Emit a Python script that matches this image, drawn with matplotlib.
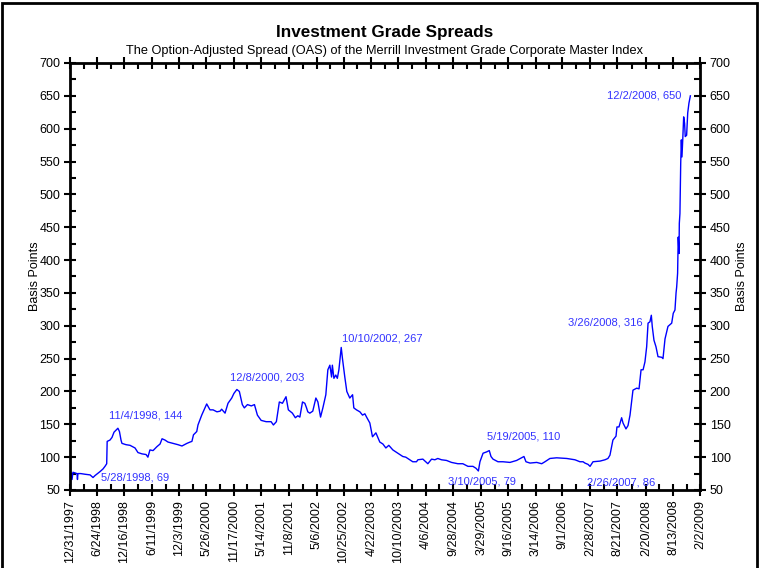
import numpy as np
import pandas as pd
import matplotlib
matplotlib.use('Agg')
import matplotlib.pyplot as plt
import matplotlib.dates as mdates
from matplotlib.patches import Rectangle

plt.rcParams['font.family'] = ['Liberation Sans', 'DejaVu Sans']

# Merrill IG master index option-adjusted spread, basis points
dates = [
    '1997-12-31', '1998-01-02', '1998-01-06', '1998-01-13', '1998-01-19', '1998-02-01',
    '1998-02-14', '1998-02-17', '1998-02-20', '1998-03-10', '1998-04-06', '1998-05-09',
    '1998-05-28', '1998-06-10', '1998-07-12', '1998-07-31', '1998-08-13', '1998-08-24',
    '1998-08-27', '1998-09-14', '1998-09-27', '1998-10-10', '1998-10-23', '1998-11-04',
    '1998-11-14', '1998-11-24', '1998-11-30', '1998-12-26', '1999-01-21', '1999-02-22',
    '1999-03-13', '1999-04-08', '1999-05-04', '1999-05-16', '1999-05-29', '1999-06-18',
    '1999-07-13', '1999-08-02', '1999-08-15', '1999-09-03', '1999-09-22', '1999-10-24',
    '1999-11-25', '1999-12-21', '2000-01-22', '2000-02-11', '2000-02-23', '2000-03-04',
    '2000-03-25', '2000-04-02', '2000-04-26', '2000-05-17', '2000-05-28', '2000-06-18',
    '2000-07-08', '2000-08-02', '2000-08-22', '2000-09-01', '2000-09-23', '2000-10-12',
    '2000-11-05', '2000-11-19', '2000-12-08', '2000-12-24', '2001-01-12', '2001-01-25',
    '2001-02-14', '2001-03-11', '2001-03-31', '2001-04-19', '2001-05-13', '2001-06-14',
    '2001-07-16', '2001-07-31', '2001-08-19', '2001-09-07', '2001-09-27', '2001-10-20',
    '2001-11-04', '2001-11-30', '2001-12-19', '2002-01-04', '2002-01-17', '2002-02-03',
    '2002-02-18', '2002-03-01', '2002-03-09', '2002-03-22', '2002-04-10', '2002-04-30',
    '2002-05-13', '2002-05-30', '2002-06-14', '2002-07-03', '2002-07-16', '2002-07-29',
    '2002-08-09', '2002-08-14', '2002-08-24', '2002-09-05', '2002-09-15', '2002-09-25',
    '2002-10-10', '2002-10-18', '2002-11-02', '2002-11-15', '2002-12-04', '2002-12-22',
    '2002-12-30', '2003-01-16', '2003-02-07', '2003-02-24', '2003-03-11', '2003-03-22',
    '2003-04-12', '2003-04-29', '2003-05-21', '2003-06-15', '2003-07-05', '2003-07-24',
    '2003-08-12', '2003-09-07', '2003-10-09', '2003-11-10', '2003-11-29', '2003-12-25',
    '2004-01-13', '2004-02-06', '2004-02-15', '2004-03-18', '2004-04-19', '2004-05-13',
    '2004-06-03', '2004-06-22', '2004-07-16', '2004-08-17', '2004-09-18', '2004-10-29',
    '2004-11-30', '2005-01-02', '2005-02-03', '2005-02-23', '2005-03-10', '2005-03-20',
    '2005-04-09', '2005-05-02', '2005-05-19', '2005-05-30', '2005-06-12', '2005-07-14',
    '2005-08-15', '2005-09-29', '2005-11-11', '2005-12-13', '2005-12-28', '2006-01-10',
    '2006-02-05', '2006-03-20', '2006-04-21', '2006-05-12', '2006-06-13', '2006-07-26',
    '2006-09-29', '2006-11-21', '2006-12-23', '2007-01-12', '2007-01-24', '2007-02-13',
    '2007-02-26', '2007-03-17', '2007-05-01', '2007-06-02', '2007-06-21', '2007-07-04',
    '2007-07-23', '2007-08-12', '2007-08-18', '2007-08-31', '2007-09-17', '2007-09-26',
    '2007-10-15', '2007-10-28', '2007-11-10', '2007-11-29', '2007-12-23', '2008-01-07',
    '2008-01-20', '2008-02-02', '2008-02-14', '2008-02-25', '2008-03-05', '2008-03-17',
    '2008-03-26', '2008-04-01', '2008-04-12', '2008-04-25', '2008-05-08', '2008-06-01',
    '2008-06-09', '2008-06-22', '2008-07-11', '2008-08-04', '2008-08-14', '2008-08-25',
    '2008-09-01', '2008-09-05', '2008-09-11', '2008-09-15', '2008-09-20', '2008-09-22',
    '2008-09-26', '2008-10-01', '2008-10-05', '2008-10-09', '2008-10-14', '2008-10-20',
    '2008-10-26', '2008-10-30', '2008-11-08', '2008-11-15', '2008-11-23', '2008-12-02',
]
oas = [
    72, 58, 76, 66, 77, 76,
    75, 66, 75, 75, 74, 73,
    69, 72, 78, 82, 86, 90,
    124, 126, 130, 138, 141, 144,
    139, 126, 121, 119, 118, 114,
    107, 105, 104, 100, 111, 110,
    116, 120, 128, 126, 123, 121,
    119, 117, 121, 123, 124, 134,
    139, 149, 164, 175, 181, 172,
    172, 169, 170, 173, 167, 182,
    190, 197, 203, 200, 180, 175,
    180, 178, 180, 164, 156, 154,
    154, 149, 154, 184, 182, 192,
    172, 167, 160, 163, 161, 184,
    182, 175, 169, 167, 170, 190,
    184, 161, 175, 195, 233, 240,
    222, 240, 220, 225, 220, 233,
    267, 250, 222, 200, 190, 195,
    175, 172, 169, 164, 166, 161,
    152, 131, 137, 123, 120, 114,
    118, 111, 106, 101, 100, 96,
    93, 93, 96, 97, 90, 97,
    96, 98, 96, 95, 92, 90,
    90, 86, 86, 83, 79, 93,
    106, 108, 110, 101, 97, 93,
    93, 92, 95, 99, 101, 93,
    91, 92, 90, 93, 98, 99,
    98, 96, 93, 93, 91, 89,
    86, 93, 94, 96, 98, 103,
    126, 132, 146, 146, 160, 152,
    143, 148, 164, 202, 205, 204,
    233, 233, 245, 268, 304, 306,
    316, 299, 278, 268, 253, 252,
    250, 280, 299, 304, 319, 324,
    350, 359, 380, 435, 410, 456,
    471, 548, 583, 557, 583, 618,
    608, 588, 590, 624, 639, 650,
]

# dates called out on the chart
note_dates = ['1998-11-04', '1998-05-28', '2000-12-08', '2002-10-10', '2005-03-10',
              '2005-05-19', '2007-02-26', '2008-03-26', '2008-12-02']

tick_dates = ['1997-12-31', '1998-06-24', '1998-12-16', '1999-06-11', '1999-12-03',
              '2000-05-26', '2000-11-17', '2001-05-14', '2001-11-08', '2002-05-06',
              '2002-10-25', '2003-04-22', '2003-10-10', '2004-04-06', '2004-09-28',
              '2005-03-29', '2005-09-16', '2006-03-14', '2006-09-01', '2007-02-28',
              '2007-08-21', '2008-02-20', '2008-08-13', '2009-02-02']

t = pd.to_datetime(dates)
series = pd.Series(oas, index=t)
ticks = pd.to_datetime(tick_dates)
tick_num = mdates.date2num(ticks)

fig = plt.figure(figsize=(7.59, 5.68), dpi=100)
ax = fig.add_axes([70 / 759, 78 / 568, 630 / 759, 427 / 568])

ax.plot(t, oas, color='#0000ff', lw=1.0)

ax.set_xlim(ticks[0], ticks[-1])
ax.set_ylim(50, 700)
ax.set_xticks(tick_num)
ax.set_xticklabels([f'{d.month}/{d.day}/{d.year}' for d in ticks], rotation=90)
ax.set_xticks((tick_num[:-1] + tick_num[1:]) / 2, minor=True)
ax.set_yticks(np.arange(50, 701, 50))
ax.set_yticks(np.arange(75, 700, 50), minor=True)

ax.tick_params(which='major', direction='inout', length=8, width=1.5,
               top=True, right=True, labelright=True, labelsize=9, pad=3)
ax.tick_params(which='minor', direction='in', length=4, width=1.5,
               top=True, right=True)
for s in ax.spines.values():
    s.set_linewidth(2)

# axis titles on both sides
for xa in (-0.0556, 1.0667):
    ax.text(xa, 0.5, 'Basis Points', transform=ax.transAxes, rotation=90,
            ha='center', va='center', fontsize=9)

# callouts
offsets = [(28, 13), (42, 0), (30, 12), (41, 9), (4, -11),
           (34, 14), (31, -16), (-46, -7), (-46, 0)]
for d, (dx, dy) in zip(note_dates, offsets):
    dt = pd.Timestamp(d)
    v = series[dt]
    ax.annotate(f'{dt.month}/{dt.day}/{dt.year}, {v}', (dt, v),
                xytext=(dx, dy), textcoords='offset pixels',
                ha='center', va='center', color='#3333ff', fontsize=8)

fig.text(0.507, 1 - 32 / 568, 'Investment Grade Spreads', ha='center', va='center',
         fontsize=12.3, fontweight='bold')
fig.text(0.507, 1 - 51 / 568,
         'The Option-Adjusted Spread (OAS) of the Merrill Investment Grade Corporate Master Index',
         ha='center', va='center', fontsize=9.2)

fig.add_artist(Rectangle((0.003, -0.01), 0.994, 1.005, transform=fig.transFigure,
                         fill=False, lw=2, color='black'))

fig.savefig('out.png', dpi=100)
